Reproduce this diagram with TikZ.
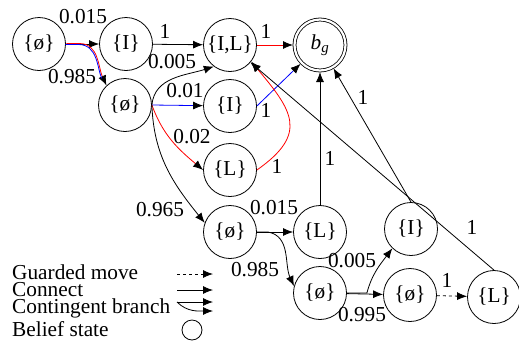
\documentclass[tikz,border=0pt]{standalone}
\usepackage{fontspec}
\setmainfont{Liberation Serif}
\usetikzlibrary{arrows.meta}
\begin{document}
\begin{tikzpicture}[x=1pt,y=1pt,
  font=\fontsize{21.3}{22}\selectfont,
  bstate/.style={circle,draw,line width=0.8pt,minimum size=53pt,inner sep=0pt},
  goal/.style={circle,draw,double,double distance=2.2pt,line width=0.8pt,
    minimum size=51pt,inner sep=0pt,outer sep=1.5pt},
  conn/.style={line width=0.8pt,-{Latex[length=10pt,width=8pt,color=black]}},
  plain/.style={line width=0.8pt},
  lbl/.style={inner sep=0pt},
  legtext/.style={inner sep=0pt,anchor=base west}
]
\useasboundingbox (0,0) rectangle (519,-346);

% belief states
\node[bstate] (A)  at (39,-44)   {\{ø\}};
\node[bstate] (B)  at (126,-44)  {\{I\}};
\node[bstate] (IL) at (230,-45)  {\{I,L\}};
\node[goal]   (bg) at (320,-45)  {\itshape b\textsubscript{g}};
\node[bstate] (C)  at (125,-105) {\{ø\}};
\node[bstate] (D)  at (230,-106) {\{I\}};
\node[bstate] (E)  at (230,-170) {\{L\}};
\node[bstate] (F)  at (230,-232) {\{ø\}};
\node[bstate] (G)  at (320,-232) {\{L\}};
\node[bstate] (H)  at (411,-229) {\{I\}};
\node[bstate] (J)  at (320,-293) {\{ø\}};
\node[bstate] (K)  at (410,-295) {\{ø\}};
\node[bstate] (M)  at (494,-297) {\{L\}};

% first contingent branch (red and blue strands side by side)
\draw[conn] (A) -- (B);
\draw[conn,red] ([shift={(0.5,0.5)}]A.east) -- ++(13,0)
  to[out=0,in=115] ([shift={(0.5,0.5)}]C.135);
\draw[plain,blue,shorten >=9pt] ([shift={(-0.5,-0.5)}]A.east) -- ++(13,0)
  to[out=0,in=115] ([shift={(-0.5,-0.5)}]C.135);

\draw[conn] (B) -- (IL);
\draw[conn,red] (IL) -- (bg);

% branches out of the second belief state
\draw[conn] (C.east) to[out=85,in=198] (IL.233);
\draw[conn,blue] (C.east) -- (D);
\draw[conn,red] (C.east) to[out=-70,in=140] (E.west);
\draw[conn] (C.east) to[out=-88,in=129] (F.160);

\draw[conn,blue] (D.east) -- (bg);
\draw[conn,red] (E.east) to[out=35,in=-50,looseness=1.5] (IL.-38);

\draw[conn] (F) -- (G);
\draw[conn] (F.east) -- ++(11,0) to[out=-10,in=115] (J.165);
\draw[conn] (G) -- (bg);

\draw[conn] (J) -- (K);
\draw[conn] (J.east) -- ++(20,0) to[out=75,in=233] (H.226);
\draw[conn] (H.north) -- (bg);
\draw[conn,dashed] (K) -- (M);
\draw[conn] (M.north) -- (IL);

% probabilities
\node[lbl] at (83,-17)   {0.015};
\node[lbl] at (72,-77)   {0.985};
\node[lbl] at (165,-31)  {1};
\node[lbl] at (172,-62)  {0.005};
\node[lbl] at (266,-31)  {1};
\node[lbl] at (185,-91)  {0.01};
\node[lbl] at (266,-110) {1};
\node[lbl] at (192,-137) {0.02};
\node[lbl] at (277,-166) {1};
\node[lbl] at (160,-210) {0.965};
\node[lbl] at (274,-208) {0.015};
\node[lbl] at (330,-158) {1};
\node[lbl] at (363,-97)  {1};
\node[lbl] at (255,-270) {0.985};
\node[lbl] at (352,-261) {0.005};
\node[lbl] at (362,-315) {0.995};
\node[lbl] at (447,-280) {1};
\node[lbl] at (472,-227) {1};

% legend
\node[legtext] (t1) at (12,-279) {Guarded move};
\node[legtext] (t2) at (12,-296) {Connect};
\node[legtext] (t3) at (12,-313) {Contingent branch};
\node[legtext] (t4) at (12,-336) {Belief state};
\coordinate (g0) at (177,-274);
\coordinate (g1) at (213,-274);
\coordinate (n0) at (177,-290);
\coordinate (n1) at (213,-290);
\coordinate (c0) at (177,-302);
\coordinate (c1) at (213,-302);
\coordinate (c2) at (213,-311);
\draw[conn,dashed] (g0) -- (g1);
\draw[conn] (n0) -- (n1);
\draw[conn] (c0) -- (c1);
\draw[conn] (c0) to[out=-45,in=180] (c2);
\node[circle,draw,line width=0.8pt,minimum size=20pt,inner sep=0pt] (bs) at (192,-330) {};
\end{tikzpicture}
\end{document}
